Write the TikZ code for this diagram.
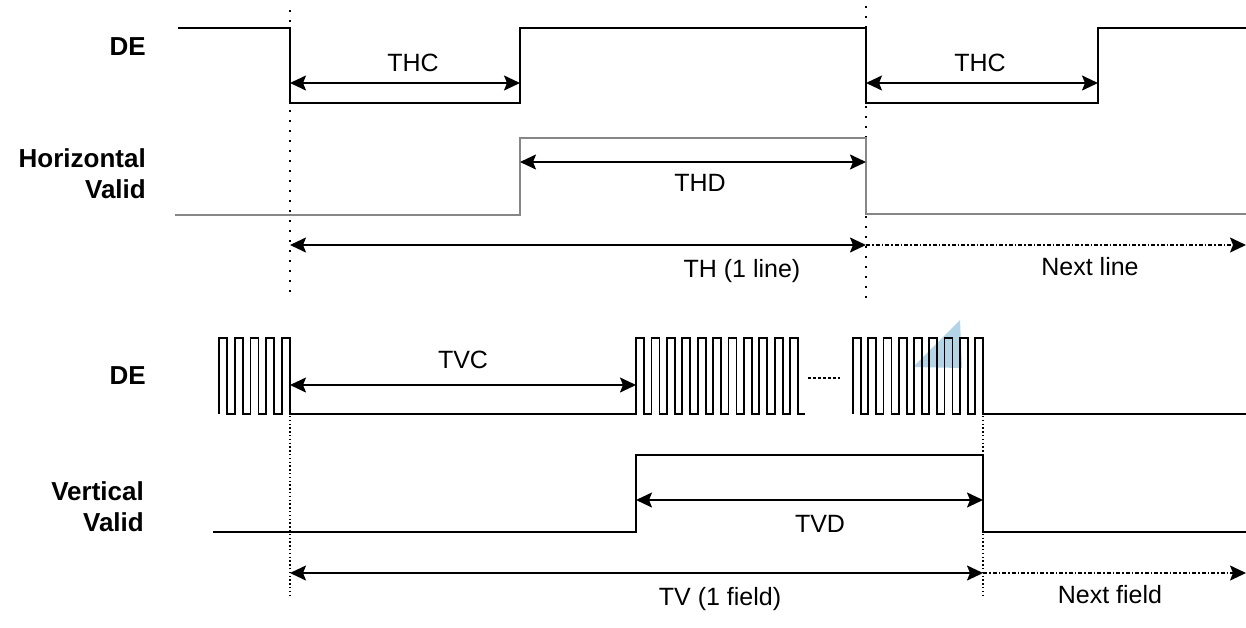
\documentclass[tikz,border=0pt]{standalone}
\usepackage{fontspec}
\setmainfont{Liberation Sans}
\usetikzlibrary{arrows.meta}
\definecolor{wblue}{RGB}{178,212,230}
\definecolor{hvgray}{RGB}{135,135,135}
\begin{document}
\begin{tikzpicture}[x=1pt,y=-1pt,
  sig/.style={line width=1.8pt, black, line join=miter},
  gsig/.style={line width=2.2pt, hvgray},
  tip/.tip={Stealth[length=16pt,width=15pt,inset=3pt]},
  dim/.style={line width=1.8pt, tip-tip},
  nxt/.style={line width=1.6pt, dash pattern=on 4pt off 2pt on 1.5pt off 2pt, -tip},
  guide/.style={line width=1.8pt, dash pattern=on 1.6pt off 8.4pt},
  fguide/.style={line width=1.6pt, dash pattern=on 1.4pt off 2.4pt},
  lbl/.style={font=\fontsize{25}{28}\selectfont, inner sep=0pt},
  sname/.style={font=\fontsize{26}{31}\selectfont\bfseries, inner sep=0pt, align=right, anchor=east}
]
\useasboundingbox (0,0) rectangle (1246,627);

% ---------- stray light-blue mark ----------
\fill[wblue] (913,367) -- (960,320) -- (962,368) -- cycle;

% ---------- signal names ----------
\node[sname] (deH) at (146,47) {DE};
\node[sname] (hv) at (146,174) {Horizontal\\Valid};
\node[sname] (deV) at (146,376) {DE};
\node[sname] (vv) at (144,507) {Vertical\\Valid};

% ---------- key coordinates ----------
\coordinate (a1) at (290,83);
\coordinate (a2) at (520,83);
\coordinate (a3) at (866,83);
\coordinate (a4) at (1098,83);
\coordinate (d1) at (520,162);
\coordinate (d2) at (866,162);
\coordinate (h1) at (290,245);
\coordinate (h2) at (866,245);
\coordinate (h3) at (1246,245);
\coordinate (c1) at (290,385);
\coordinate (c2) at (636,385);
\coordinate (e1) at (636,500);
\coordinate (e2) at (983,500);
\coordinate (v1) at (290,573);
\coordinate (v2) at (983,573);
\coordinate (v3) at (1246,573);

% ---------- guide lines ----------
\draw[guide] (290,10) -- (290,298);
\draw[guide] (866,6) -- (866,298);
\draw[fguide] (290,416) -- (290,597);
\draw[fguide] (983,416) -- (983,597);

% ---------- top: DE ----------
\draw[sig] (178,28) -- (290,28) -- (290,103) -- (520,103) -- (520,28) -- (866,28)
  -- (866,103) -- (1098,103) -- (1098,28) -- (1246,28);

% ---------- top: Horizontal Valid ----------
\draw[gsig] (175,215) -- (520,215) -- (520,138) -- (866,138) -- (866,214) -- (1246,214);

% ---------- bottom: DE pulses ----------
\draw[sig] (219,414)
  \foreach \k in {0,...,4} { -- ({219+15.75*\k},414) -- ++(0,-76) -- ++(8,0) -- ++(0,76) }
  -- (636,414)
  \foreach \k in {0,...,10} { -- ({636+15.4*\k},414) -- ++(0,-76) -- ++(8,0) -- ++(0,76) }
  -- (805,414);
\draw[sig] (853,414)
  \foreach \k in {0,...,8} { -- ({853+15.25*\k},414) -- ++(0,-76) -- ++(8,0) -- ++(0,76) }
  -- (1246,414);
\draw[line width=1.6pt, dash pattern=on 3pt off 2pt] (808,378) -- (840,378);

% ---------- bottom: Vertical Valid ----------
\draw[sig] (213,532) -- (636,532) -- (636,455) -- (983,455) -- (983,532) -- (1246,532);

% ---------- dimension arrows ----------
\draw[dim] (a1) -- (a2);
\draw[dim] (a3) -- (a4);
\draw[dim] (d1) -- (d2);
\draw[dim] (h1) -- (h2);
\draw[nxt] (h2) -- (h3);
\draw[dim] (c1) -- (c2);
\draw[dim] (e1) -- (e2);
\draw[dim] (v1) -- (v2);
\draw[nxt] (v2) -- (v3);

% ---------- labels ----------
\node[lbl] (thc1) at (413,63) {THC};
\node[lbl] (thc2) at (980,63) {THC};
\node[lbl] (thd) at (700,183) {THD};
\node[lbl] (th) at (742,271) {TH (1 line)};
\node[lbl] (nl) at (1090,267) {Next line};
\node[lbl] (tvc) at (463,360) {TVC};
\node[lbl] (tvd) at (820,524) {TVD};
\node[lbl] (tv) at (720,599) {TV (1 field)};
\node[lbl] (nf) at (1110,595) {Next field};
\end{tikzpicture}
\end{document}
